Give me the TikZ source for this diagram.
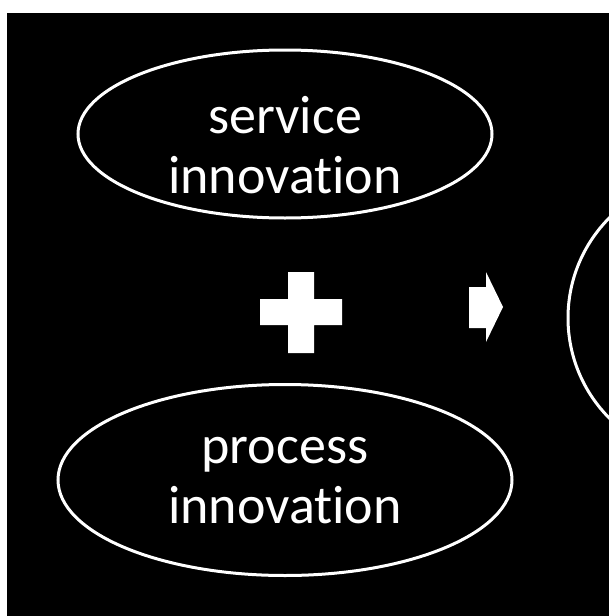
\documentclass[tikz,border=0pt]{standalone}
\usepackage{fontspec}
\setmainfont[Ligatures=NoCommon]{Carlito}
\usetikzlibrary{shapes.geometric}
\begin{document}
\begin{tikzpicture} [x=1pt, y=-1pt,
        bubble/.style = {shape=ellipse, draw=white, line width=3pt, inner sep=0pt},
        bubbletext/.style = {text=white, align=center, inner sep=0pt, font=\fontsize{54}{60}\selectfont},
        sign/.style = {fill=white, draw=none}]
        \useasboundingbox (0,0) rectangle (609,616);
        \clip (0,0) rectangle (609,616);
        \fill[black] (7,13) rectangle (609,616);
        % the two ellipses on the left
        \node [bubble, minimum width=414pt, minimum height=168pt] (service) at (285,134) {};
        \node [bubbletext] (serviceText) at (285,145) {service\\innovation};
        \node [bubble, minimum width=454pt, minimum height=191pt] (process) at (285,480) {};
        \node [bubbletext] (processText) at (285,481) {process\\innovation};
        % plus and arrow
        \fill [sign] (288,272) -- (314,272) -- (314,299) -- (342,299) -- (342,325) -- (314,325)
            -- (314,353) -- (288,353) -- (288,325) -- (260,325) -- (260,299) -- (288,299) -- cycle;
        \fill [sign] (469,287) -- (486,287) -- (486,272) -- (503,307) -- (486,342) -- (486,328)
            -- (469,328) -- cycle;
        % the cut off one on the right
        \node [bubble, minimum width=284pt, minimum height=284pt] (result) at (710,318) {};
\end{tikzpicture}
\end{document}
